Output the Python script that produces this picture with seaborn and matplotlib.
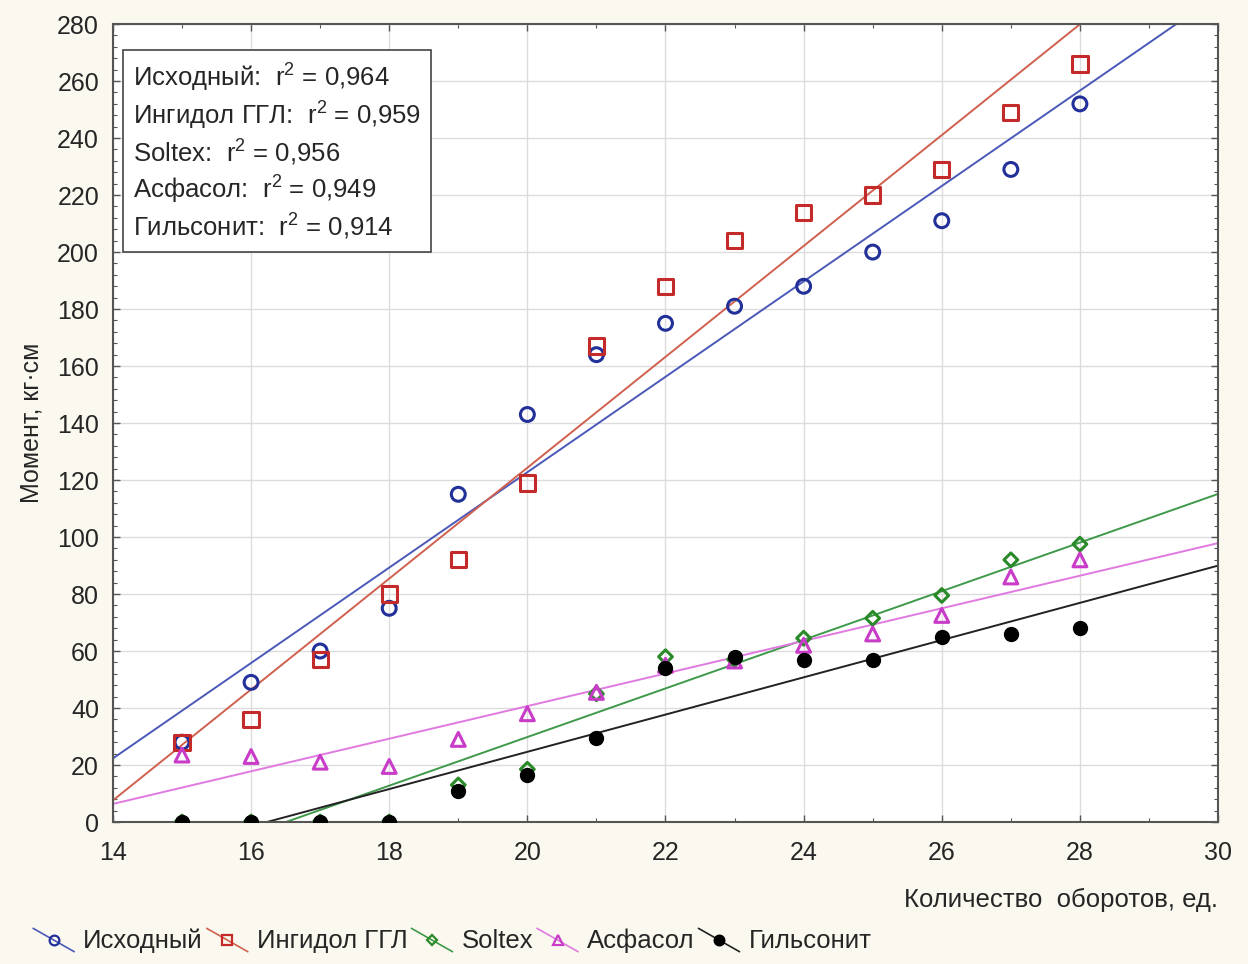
import numpy as np
import pandas as pd
import matplotlib
matplotlib.use("Agg")
import matplotlib.pyplot as plt
import seaborn as sns
from matplotlib.legend_handler import HandlerLine2D
from matplotlib.lines import Line2D
from matplotlib.ticker import MultipleLocator

x_vals = [15, 16, 17, 18, 19, 20, 21, 22, 23, 24, 25, 26, 27, 28]
ishodny = [28, 49, 60, 75, 115, 143, 164, 175, 181, 188, 200, 211, 229, 252]
ingidol = [28, 36, 57, 80, 92, 119, 167, 188, 204, 214, 220, 229, 249, 266]
soltex = [0, 0, 0, 0, 13, 18.5, 45, 58, 57, 64.5, 71.5, 79.5, 92, 97.5]
asfasol = [23.5, 23, 21, 19.5, 29, 38, 45.5, 55, 56.5, 62, 66, 72.5, 86, 92]
gilsonit = [0, 0, 0, 0, 11, 16.5, 29.5, 54, 58, 57, 57, 65, 66, 68]

names = ["Исходный", "Ингидол ГГЛ", "Soltex", "Асфасол", "Гильсонит"]
r2_labels = ["0,964", "0,959", "0,956", "0,949", "0,914"]
series = [ishodny, ingidol, soltex, asfasol, gilsonit]

marker_colors = ["#22309a", "#c42a2a", "#2a8a2a", "#c83cc8", "#000000"]
line_colors = ["#4a58b8", "#d0604e", "#3e9a4a", "#e07ae0", "#222222"]
markers = ["o", "s", "D", "^", "o"]
msizes = [10, 11, 7, 10, 10]
filled = [False, False, False, False, True]

sns.set_theme(style="white")
plt.rcParams["font.family"] = ["Liberation Sans", "DejaVu Sans"]

fig = plt.figure(figsize=(12.48, 9.64), dpi=100)
fig.patch.set_facecolor("#fbf9ef")
ax = fig.add_axes([0.0905, 0.1473, 0.8855, 0.8277])
ax.set_facecolor("white")
ax.set_xlim(14, 30)
ax.set_ylim(0, 280)

handles = []
for name, ys, mc, lc, mk, ms, fl in zip(names, series, marker_colors, line_colors, markers, msizes, filled):
    df = pd.DataFrame({"x": x_vals, "y": ys})
    sns.regplot(data=df, x="x", y="y", ax=ax, ci=None, truncate=False,
                scatter=False, line_kws=dict(color=lc, lw=1.4, zorder=2))
    sns.scatterplot(data=df, x="x", y="y", ax=ax, marker=mk, s=ms ** 2,
                    facecolor=(mc if fl else "none"), edgecolor=mc,
                    linewidth=2.2 if not fl else 1.0, zorder=3, legend=False)
    handles.append(Line2D([], [], color=lc, lw=1.2, marker=mk, markersize=ms * 0.7,
                          markerfacecolor=(mc if fl else "none"), markeredgecolor=mc,
                          markeredgewidth=1.6))

ax.set_xlim(14, 30)
ax.set_ylim(0, 280)
ax.xaxis.set_major_locator(MultipleLocator(2))
ax.xaxis.set_minor_locator(MultipleLocator(1))
ax.yaxis.set_major_locator(MultipleLocator(20))
ax.yaxis.set_minor_locator(MultipleLocator(4))
ax.grid(True, which="major", color="#dcdcdc", lw=1.0)
ax.set_axisbelow(True)
ax.tick_params(which="both", direction="in", top=True, right=True, bottom=True, left=True,
               color="#555555")
ax.tick_params(which="major", length=5, width=1, labelsize=18)
ax.tick_params(axis="x", which="major", pad=14)
ax.tick_params(axis="y", which="major", pad=10)
ax.tick_params(which="minor", length=3, width=0.8)
for s in ax.spines.values():
    s.set_color("#555555")
    s.set_linewidth(1.5)

ax.set_xlabel("")
ax.set_ylabel("Момент, кг·см", fontsize=18, labelpad=10)
fig.text(0.976, 0.0665, "Количество  оборотов, ед.", ha="right", va="center", fontsize=18.5)

box_text = "\n".join(f"{n}:  $\\mathregular{{r^2}}$ = {r}" for n, r in zip(names, r2_labels))
ax.text(0.018, 0.953, box_text, transform=ax.transAxes, fontsize=18.5, va="top", ha="left",
        linespacing=1.24,
        bbox=dict(boxstyle="square,pad=0.4", facecolor="white", edgecolor="#444444", lw=1.2))


class DiagHandler(HandlerLine2D):
    def create_artists(self, legend, orig_handle, xdescent, ydescent, width, height, fontsize, trans):
        x0, x1 = -xdescent, -xdescent + width
        y0, y1 = -ydescent + height * 1.1, -ydescent - height * 0.2
        line = Line2D([x0, x1], [y0, y1], color=orig_handle.get_color(), lw=1.2)
        mk = Line2D([(x0 + x1) / 2], [(y0 + y1) / 2], marker=orig_handle.get_marker(),
                    markersize=orig_handle.get_markersize(),
                    markerfacecolor=orig_handle.get_markerfacecolor(),
                    markeredgecolor=orig_handle.get_markeredgecolor(),
                    markeredgewidth=orig_handle.get_markeredgewidth(), linestyle="none")
        line.set_transform(trans)
        mk.set_transform(trans)
        return [line, mk]


fig.legend(handles, names, loc="center left", bbox_to_anchor=(0.008, 0.024), ncol=5,
           frameon=False, fontsize=18.5, handler_map={Line2D: DiagHandler()},
           handlelength=1.6, handletextpad=0.35, columnspacing=0.15)

fig.savefig("out.png", dpi=100, facecolor=fig.get_facecolor())
